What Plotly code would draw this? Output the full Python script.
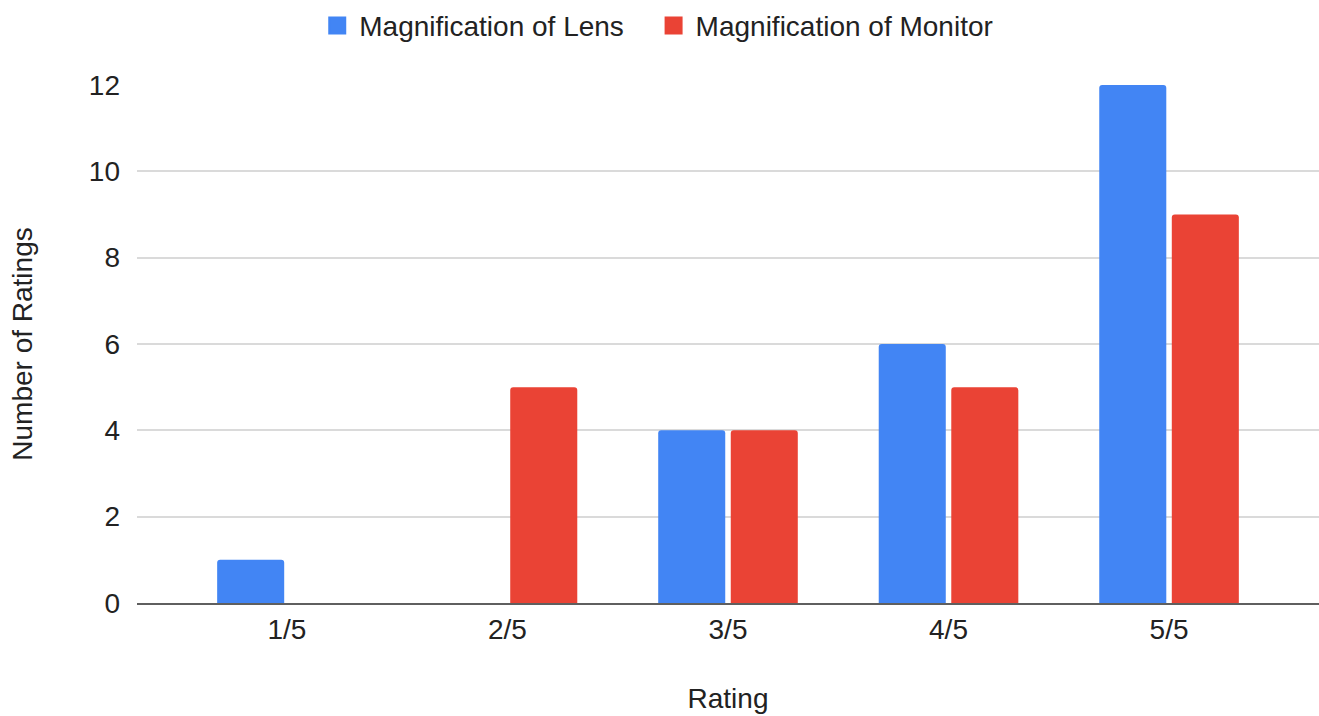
import plotly.graph_objects as go

# Rating distribution for the two magnification options
ratings = ["1/5", "2/5", "3/5", "4/5", "5/5"]
lens_counts = [1, 0, 4, 6, 12]
monitor_counts = [0, 5, 4, 5, 9]
y_ticks = [0, 2, 4, 6, 8, 10, 12]

BLUE = "#4285F4"
RED = "#EA4335"
FONT = "Liberation Sans, Arial, Helvetica, sans-serif"
TEXT = "#222222"
SIZE = 28

fig = go.Figure()

fig.add_trace(go.Bar(
    x=ratings, y=lens_counts, name="Magnification of Lens",
    marker=dict(color=BLUE, line=dict(width=0), cornerradius=3),
    showlegend=False,
))
fig.add_trace(go.Bar(
    x=ratings, y=monitor_counts, name="Magnification of Monitor",
    marker=dict(color=RED, line=dict(width=0), cornerradius=3),
    showlegend=False,
))

# Legend keys drawn as larger square swatches, one legend box per series
for name, color, lg in [("Magnification of Lens", BLUE, "legend"),
                        ("Magnification of Monitor", RED, "legend2")]:
    fig.add_trace(go.Scatter(
        x=[ratings[0]], y=[None], mode="markers", name=name,
        marker=dict(symbol="square", size=16, color=color,
                    line=dict(width=2, color=color)),
        hoverinfo="skip", legend=lg,
    ))

legend_style = dict(
    orientation="h",
    xref="container", yref="container",
    xanchor="left", y=0.964, yanchor="middle",
    font=dict(size=SIZE, color=TEXT),
    itemwidth=34,
    itemclick=False, itemdoubleclick=False,
)

fig.update_layout(
    width=1319, height=716,
    margin=dict(l=137, r=0, t=85, b=113),
    paper_bgcolor="white", plot_bgcolor="white",
    barmode="group", bargap=0.342, bargroupgap=0.076,
    font=dict(family=FONT, size=SIZE, color=TEXT),
    legend=dict(x=0.239, **legend_style),
    legend2=dict(x=0.494, **legend_style),
    xaxis=dict(
        title=dict(text="Rating", font=dict(size=SIZE, color=TEXT), standoff=45),
        range=[-0.68, 4.68],
        showgrid=False,
        showline=True, linecolor="#5f5f5f", linewidth=2,
        ticks="", tickfont=dict(size=SIZE, color=TEXT),
        zeroline=False,
    ),
    yaxis=dict(
        title=dict(text="Number of Ratings", font=dict(size=SIZE, color=TEXT), standoff=48),
        range=[0, 12],
        tickvals=y_ticks,
        showgrid=True, gridcolor="#dadada", gridwidth=2,
        zeroline=False,
        ticks="", ticklabelstandoff=16,
        tickfont=dict(size=SIZE, color=TEXT),
    ),
)

fig.write_html("out.html")
